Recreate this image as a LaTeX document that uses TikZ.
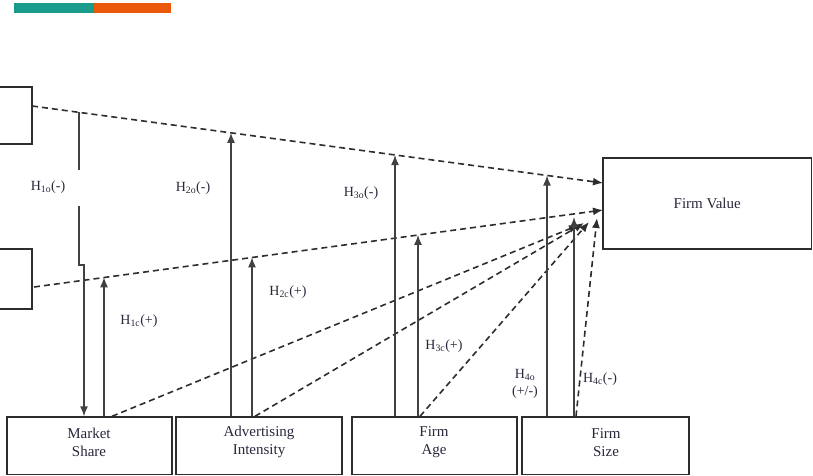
\documentclass[tikz,border=0pt]{standalone}
\usepackage{fontspec}
\setmainfont{Liberation Serif}
\usetikzlibrary{arrows.meta}
\definecolor{teal1}{RGB}{26,154,138}
\definecolor{orange1}{RGB}{234,88,12}
\definecolor{ln}{RGB}{45,45,45}
\definecolor{sl}{RGB}{65,65,65}
\definecolor{txt}{RGB}{40,40,60}
\newcommand{\boxfont}{\fontsize{15}{18}\selectfont}
\newcommand{\labfont}{\fontsize{14}{17}\selectfont}
\tikzset{
  box/.style={draw=ln, line width=1.4pt, inner sep=0pt, text=txt, font=\boxfont},
  btext/.style={text=txt, font=\boxfont, align=center, inner sep=0pt},
  lab/.style={text=txt, font=\labfont, inner sep=0pt},
  dsh/.style={draw=ln, line width=1.6pt, dash pattern=on 6pt off 4pt},
  sol/.style={draw=sl, line width=1.4pt},
  arr/.style={-{Latex[length=10pt,width=8pt]}}
}
\begin{document}
\begin{tikzpicture}[x=1pt,y=-1pt]
\useasboundingbox (0,0) rectangle (813,476);
\clip (0,0) rectangle (813,476);
% top bars
\fill[teal1] (14,3) rectangle (94,13);
\fill[orange1] (94,3) rectangle (171,13);
% boxes
\node[box, minimum width=50, minimum height=57] (l1) at (7,115.5) {};
\node[box, minimum width=50, minimum height=60] (l2) at (7,279) {};
\node[box, minimum width=208.5, minimum height=91] (fv) at (707.25,203.5) {Firm Value};
\node[box, minimum width=165, minimum height=57.5] (ms) at (89.5,445.75) {};
\node[box, minimum width=166, minimum height=57.5] (ai) at (259,445.75) {};
\node[box, minimum width=165, minimum height=57.5] (fa) at (434.5,445.75) {};
\node[box, minimum width=167, minimum height=57.5] (fs) at (605.5,445.75) {};
\node[btext] (mst) at (89,442) {Market\\Share};
\node[btext] (ait) at (259,442) {Advertising\\Intensity};
\node[btext] (fat) at (434,442) {Firm\\Age};
\node[btext] (fst) at (606,443) {Firm\\Size};
% coordinates
\coordinate (s1) at (32,106);
\coordinate (e1) at (603,183);
\coordinate (s2) at (34,287);
\coordinate (e2) at (603,210);
\coordinate (p1o) at (79,112.3);
\coordinate (p2o) at (231,132.8);
\coordinate (p3o) at (395,155.0);
\coordinate (p4o) at (547,175.5);
\coordinate (p1c) at (104,277.3);
\coordinate (p2c) at (252,257.3);
\coordinate (p3c) at (418,234.9);
\coordinate (p4c) at (574,217);
\coordinate (t1) at (579,225);
\coordinate (t2) at (584,223);
\coordinate (t3) at (589,222);
\coordinate (t4) at (597,218);
% dashed connectors
\draw[dsh,arr] (s1) -- (e1);
\draw[dsh,arr] (s2) -- (e2);
\draw[dsh,arr] (ms.north -| 112,0) -- (t1);
\draw[dsh,arr] (ai.north -| 255,0) -- (t2);
\draw[dsh,arr] (fa.north -| 420,0) -- (t3);
\draw[dsh,arr] (fs.north -| 576,0) -- (t4);
% H1o path with gap
\draw[sol] (p1o) -- (79,170);
\draw[sol,arr] (79,206) -- (79,265) -- (84,265) -- (ms.north -| 84,0);
% vertical arrows
\draw[sol,arr] (ms.north -| p1c) -- (p1c);
\draw[sol,arr] (ai.north -| p2o) -- (p2o);
\draw[sol,arr] (ai.north -| p2c) -- (p2c);
\draw[sol,arr] (fa.north -| p3o) -- (p3o);
\draw[sol,arr] (fa.north -| p3c) -- (p3c);
\draw[sol,arr] (fs.north -| p4o) -- (p4o);
\draw[sol,arr] (fs.north -| p4c) -- (p4c);
% labels
\node[lab] (h1o) at (48,187) {H\textsubscript{1o}(-)};
\node[lab] (h2o) at (193,188) {H\textsubscript{2o}(-)};
\node[lab] (h3o) at (361,193) {H\textsubscript{3o}(-)};
\node[lab] (h1c) at (139,321) {H\textsubscript{1c}(+)};
\node[lab] (h2c) at (288,292) {H\textsubscript{2c}(+)};
\node[lab] (h3c) at (444,346) {H\textsubscript{3c}(+)};
\node[lab, align=center] (h4o) at (525,384) {H\textsubscript{4o}\\(+/-)};
\node[lab] (h4c) at (600,379) {H\textsubscript{4c}(-)};
\end{tikzpicture}
\end{document}
